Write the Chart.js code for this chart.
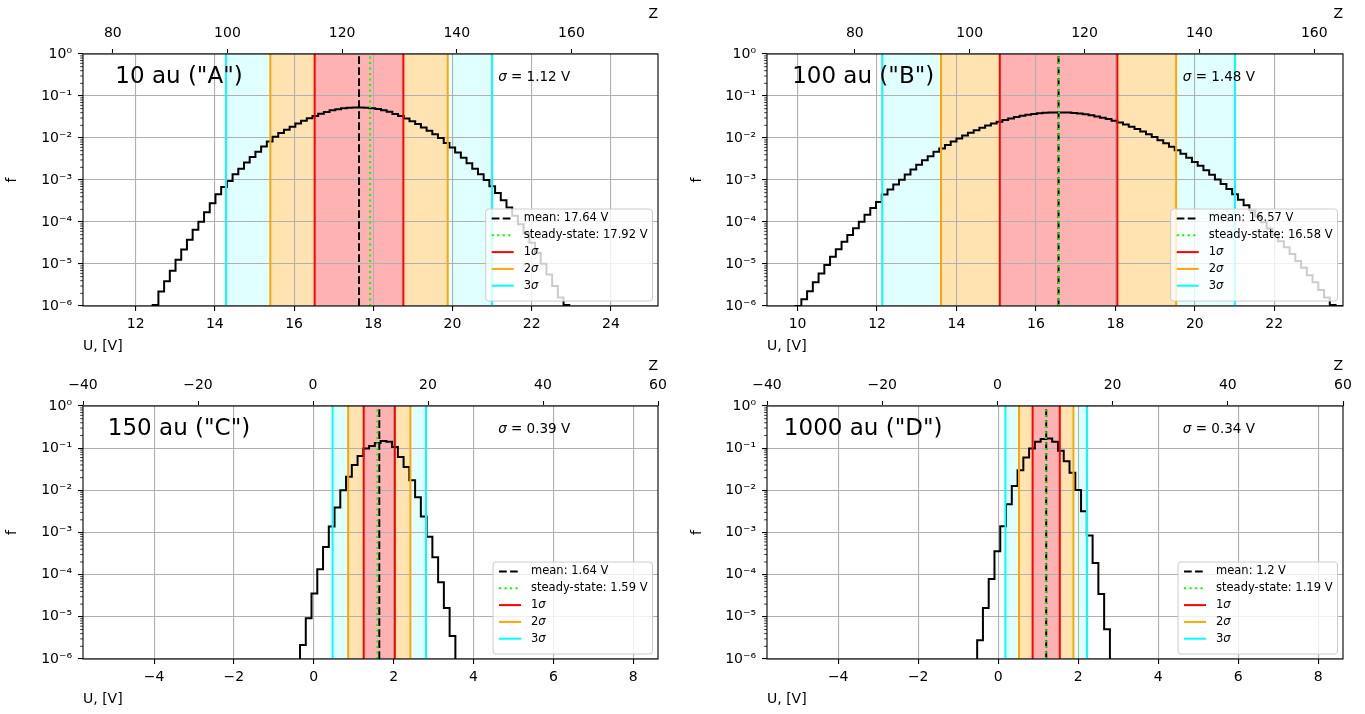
<!DOCTYPE html>
<html>
<head>
<meta charset="utf-8">
<script src="https://cdn.jsdelivr.net/npm/chart.js@4.4.1/dist/chart.umd.min.js"></script>
<style>
  body { margin: 0; background: #fff; width: 1365px; height: 714px; position: relative; overflow: hidden; }
  canvas { position: absolute; }
</style>
</head>
<body>
<canvas id="pA" width="682" height="357" style="left:0;top:0"></canvas>
<canvas id="pB" width="680" height="357" style="left:685px;top:0"></canvas>
<canvas id="pC" width="682" height="358" style="left:0;top:352px"></canvas>
<canvas id="pD" width="680" height="358" style="left:685px;top:352px"></canvas>
<script>
// ---- data ----
const panelLabels = ['10 au ("A")', '100 au ("B")', '150 au ("C")', '1000 au ("D")'];
const meanU = [17.64, 16.57, 1.64, 1.2];
const steadyU = [17.92, 16.58, 1.59, 1.19];
const sigmaU = [1.12, 1.48, 0.39, 0.34];

const uRangeA = [10.67, 25.19];
const zRangeA = [74.8, 175.1];
const uRangeB = [9.23, 23.73];
const zRangeB = [64.7, 165.0];
const uRangeCD = [-5.78, 8.62];
const zRangeCD = [-40, 60];

const uTicksA = [12, 14, 16, 18, 20, 22, 24];
const uTicksB = [10, 12, 14, 16, 18, 20, 22];
const uTicksCD = [-4, -2, 0, 2, 4, 6, 8];
const zTicksAB = [80, 100, 120, 140, 160];
const zTicksCD = [-40, -20, 0, 20, 40, 60];
const fTicks = [1e-6, 1e-5, 1e-4, 1e-3, 1e-2, 1e-1, 1];

// histograms: first bin edge, bin width (one charge unit), f per bin
const binStartA = 12.43, binWidthA = 0.1441;
const histA = [
  1.05e-6, 2.2e-6, 3.9e-6, 6.9e-6, 1.26e-5, 2.2e-5, 3.8e-5, 6.5e-5, 1.02e-4, 1.7e-4,
  2.8e-4, 4.6e-4, 6.8e-4, 9.5e-4, 1.38e-3, 1.86e-3, 2.6e-3, 3.55e-3, 4.7e-3, 6.3e-3,
  8.3e-3, 1.07e-2, 1.32e-2, 1.57e-2, 1.86e-2, 2.2e-2, 2.57e-2, 2.95e-2, 3.35e-2, 3.76e-2,
  4.17e-2, 4.57e-2, 4.86e-2, 5.1e-2, 5.27e-2, 5.36e-2, 5.36e-2, 5.28e-2, 5.13e-2, 4.9e-2,
  4.57e-2, 4.2e-2, 3.74e-2, 3.32e-2, 2.9e-2, 2.51e-2, 2.14e-2, 1.78e-2, 1.48e-2, 1.23e-2,
  1.0e-2, 7.6e-3, 5.9e-3, 4.5e-3, 3.4e-3, 2.5e-3, 1.86e-3, 1.38e-3, 1.0e-3, 7.1e-4,
  4.9e-4, 3.3e-4, 2.2e-4, 1.41e-4, 8.9e-5, 5.4e-5, 3.2e-5, 1.82e-5, 1.02e-5, 5.6e-6,
  3.0e-6, 1.6e-6, 1.05e-6
];

const binStartB = 9.95, binWidthB = 0.1446;
const histB = [
  1.0e-6, 1.45e-6, 2.24e-6, 3.7e-6, 5.9e-6, 9.5e-6, 1.48e-5, 2.24e-5, 3.4e-5, 4.9e-5,
  7.1e-5, 1.02e-4, 1.48e-4, 2.14e-4, 3.0e-4, 4.5e-4, 5.9e-4, 7.8e-4, 1.02e-3, 1.35e-3,
  1.78e-3, 2.3e-3, 2.95e-3, 3.7e-3, 4.7e-3, 5.6e-3, 6.8e-3, 8.2e-3, 9.7e-3, 1.14e-2,
  1.33e-2, 1.53e-2, 1.75e-2, 1.98e-2, 2.21e-2, 2.45e-2, 2.7e-2, 2.93e-2, 3.16e-2, 3.37e-2,
  3.56e-2, 3.73e-2, 3.87e-2, 3.97e-2, 4.04e-2, 4.07e-2, 4.06e-2, 4.02e-2, 3.93e-2, 3.81e-2,
  3.66e-2, 3.48e-2, 3.27e-2, 3.05e-2, 2.82e-2, 2.58e-2, 2.33e-2, 2.09e-2, 1.86e-2, 1.64e-2,
  1.43e-2, 1.23e-2, 1.05e-2, 8.9e-3, 7.5e-3, 6.2e-3, 5.1e-3, 4.2e-3, 3.4e-3, 2.7e-3,
  2.17e-3, 1.71e-3, 1.33e-3, 1.03e-3, 8.0e-4, 6.1e-4, 4.6e-4, 3.4e-4, 2.5e-4, 1.87e-4,
  1.36e-4, 9.9e-5, 7.0e-5, 5.0e-5, 3.5e-5, 2.5e-5, 1.72e-5, 1.18e-5, 8.1e-6, 5.4e-6,
  3.7e-6, 2.4e-6, 1.6e-6, 1.05e-6, 1.0e-6
];

const binStartC = -0.345, binWidthC = 0.1441;
const histC = [
  2.14e-6, 9.3e-6, 3.6e-5, 1.35e-4, 4.5e-4, 1.38e-3, 3.9e-3, 1.0e-2, 2.1e-2, 4.0e-2,
  6.5e-2, 9.8e-2, 0.112, 0.132, 0.148, 0.141, 0.107, 6.2e-2, 3.6e-2, 1.74e-2,
  6.9e-3, 2.4e-3, 7.9e-4, 2.6e-4, 6.6e-5, 1.62e-5, 3.5e-6
];

const binStartD = -0.526, binWidthD = 0.1443;
const histD = [
  2.8e-6, 1.62e-5, 7.9e-5, 3.6e-4, 1.41e-3, 4.7e-3, 1.26e-2, 3.0e-2, 6.0e-2, 9.8e-2,
  0.141, 0.166, 0.170, 0.141, 8.7e-2, 4.9e-2, 2.6e-2, 1.02e-2, 3.2e-3, 8.5e-4,
  1.9e-4, 3.5e-5, 5.1e-6
];

// ---- styling ----
const FLOOR = 1e-9;               // below the axis: closes the step outline
const FAMILY = "'DejaVu Sans', sans-serif";
const F14 = { family: FAMILY, size: 14 };
const GRID = '#b0b0b0';
const RED = '#ff0000', ORANGE = '#ffa500', CYAN = '#00ffff', LIME = '#00ff00';
const DASH_MEAN = [7.7, 3.3], DOT_SS = [2.1, 3.4];

Chart.defaults.font.family = FAMILY;
Chart.defaults.color = '#000';

const SUP = { '-': '\u207b', '0': '\u2070', '1': '\u00b9', '2': '\u00b2', '3': '\u00b3', '4': '\u2074', '5': '\u2075', '6': '\u2076', '7': '\u2077', '8': '\u2078', '9': '\u2079' };
const pow10Label = v => '10' + String(Math.round(Math.log10(v))).split('').map(c => SUP[c]).join('');
const numLabel = v => String(v).replace('-', '\u2212');

const panels = [
  { id: 'pA', idx: 0, hist: histA, start: binStartA, width: binWidthA, u: uRangeA, z: zRangeA, uTicks: uTicksA, zTicks: zTicksAB, yw: 83, padR: 24 },
  { id: 'pB', idx: 1, hist: histB, start: binStartB, width: binWidthB, u: uRangeB, z: zRangeB, uTicks: uTicksB, zTicks: zTicksAB, yw: 82, padR: 22 },
  { id: 'pC', idx: 2, hist: histC, start: binStartC, width: binWidthC, u: uRangeCD, z: zRangeCD, uTicks: uTicksCD, zTicks: zTicksCD, yw: 83, padR: 24 },
  { id: 'pD', idx: 3, hist: histD, start: binStartD, width: binWidthD, u: uRangeCD, z: zRangeCD, uTicks: uTicksCD, zTicks: zTicksCD, yw: 82, padR: 22 }
];

function roundRect(ctx, x, y, w, h, r) {
  ctx.beginPath();
  ctx.moveTo(x + r, y);
  ctx.lineTo(x + w - r, y); ctx.arcTo(x + w, y, x + w, y + r, r);
  ctx.lineTo(x + w, y + h - r); ctx.arcTo(x + w, y + h, x + w - r, y + h, r);
  ctx.lineTo(x + r, y + h); ctx.arcTo(x, y + h, x, y + h - r, r);
  ctx.lineTo(x, y + r); ctx.arcTo(x, y, x + r, y, r);
  ctx.closePath();
}

function drawLegend(ctx, a, i) {
  const font = '11.5px ' + FAMILY, fontIt = 'italic 11.5px ' + FAMILY;
  const rows = [
    { text: 'mean: ' + meanU[i] + ' V', color: '#000', dash: DASH_MEAN },
    { text: 'steady-state: ' + steadyU[i] + ' V', color: LIME, dash: DOT_SS },
    { text: '1', sig: true, color: RED, dash: [] },
    { text: '2', sig: true, color: ORANGE, dash: [] },
    { text: '3', sig: true, color: CYAN, dash: [] }
  ];
  const widthOf = r => {
    ctx.font = font;
    let w = ctx.measureText(r.text).width;
    if (r.sig) { ctx.font = fontIt; w += ctx.measureText('\u03c3').width; }
    return w;
  };
  const tw = Math.max(...rows.map(widthOf));
  const w = 6 + 22 + 10 + tw + 5, h = 92;
  const x0 = a.right - 5.5 - w, y0 = a.bottom - 5 - h;
  roundRect(ctx, x0, y0, w, h, 3);
  ctx.fillStyle = 'rgba(255,255,255,0.8)';
  ctx.fill();
  ctx.strokeStyle = '#cccccc';
  ctx.lineWidth = 1;
  ctx.setLineDash([]);
  ctx.stroke();
  rows.forEach((r, k) => {
    const y = y0 + 9.5 + 16.8 * k;
    ctx.setLineDash(r.dash);
    ctx.strokeStyle = r.color;
    ctx.lineWidth = 2;
    ctx.beginPath(); ctx.moveTo(x0 + 6, y); ctx.lineTo(x0 + 28, y); ctx.stroke();
    ctx.setLineDash([]);
    ctx.fillStyle = '#000';
    ctx.textAlign = 'left';
    ctx.textBaseline = 'middle';
    ctx.font = font;
    ctx.fillText(r.text, x0 + 38, y);
    if (r.sig) {
      const w1 = ctx.measureText(r.text).width;
      ctx.font = fontIt;
      ctx.fillText('\u03c3', x0 + 38 + w1, y);
    }
  });
}

function panelPlugin(p) {
  const i = p.idx;
  return {
    id: 'panel' + i,
    beforeDraw(chart) {
      // sigma bands, under the grid
      const ctx = chart.ctx, a = chart.chartArea, xs = chart.scales.x;
      const m = meanU[i], s = sigmaU[i];
      const band = (lo, hi, color) => {
        const x0 = xs.getPixelForValue(lo), x1 = xs.getPixelForValue(hi);
        ctx.fillStyle = color;
        ctx.fillRect(x0, a.top, x1 - x0, a.bottom - a.top);
      };
      ctx.save();
      band(m - 3 * s, m - 2 * s, 'rgba(0,255,255,0.12)');
      band(m + 2 * s, m + 3 * s, 'rgba(0,255,255,0.12)');
      band(m - 2 * s, m - s, 'rgba(255,165,0,0.3)');
      band(m + s, m + 2 * s, 'rgba(255,165,0,0.3)');
      band(m - s, m + s, 'rgba(255,0,0,0.3)');
      ctx.restore();
    },
    afterDraw(chart) {
      const ctx = chart.ctx, a = chart.chartArea, ys = chart.scales.y;
      ctx.save();
      // spines
      ctx.strokeStyle = '#000';
      ctx.lineWidth = 1.1;
      ctx.strokeRect(a.left, a.top, a.right - a.left, a.bottom - a.top);
      // minor log ticks
      ctx.lineWidth = 0.8;
      ctx.beginPath();
      for (let e = -6; e < 0; e++) {
        for (let mm = 2; mm <= 9; mm++) {
          const y = ys.getPixelForValue(mm * Math.pow(10, e));
          ctx.moveTo(a.left - 2.8, y); ctx.lineTo(a.left, y);
        }
      }
      ctx.stroke();
      // panel name
      const W = a.right - a.left;
      const ty = a.top + 23.5;
      ctx.fillStyle = '#000';
      ctx.textBaseline = 'middle';
      ctx.textAlign = 'center';
      ctx.font = '23px ' + FAMILY;
      ctx.fillText(panelLabels[i], a.left + 0.167 * W, ty);
      // sigma annotation
      ctx.textAlign = 'left';
      const sx = a.left + 0.722 * W;
      ctx.font = 'italic 13.5px ' + FAMILY;
      ctx.fillText('\u03c3', sx, ty);
      const ws = ctx.measureText('\u03c3').width;
      ctx.font = '13.5px ' + FAMILY;
      ctx.fillText(' = ' + sigmaU[i] + ' V', sx + ws, ty);
      drawLegend(ctx, a, i);
      ctx.restore();
    }
  };
}

function makeChart(p) {
  const i = p.idx;
  const m = meanU[i], s = sigmaU[i], ss = steadyU[i];
  const n = p.hist.length;
  const outline = [{ x: p.start, y: FLOOR }];
  p.hist.forEach((v, k) => outline.push({ x: p.start + k * p.width, y: v }));
  outline.push({ x: p.start + n * p.width, y: FLOOR });

  const vline = (x, color, dash, order) => ({
    data: [{ x: x, y: fTicks[0] }, { x: x, y: fTicks[fTicks.length - 1] }],
    borderColor: color, borderDash: dash, borderWidth: 2, pointRadius: 0, order: order
  });

  const datasets = [
    { data: outline, stepped: true, borderColor: '#000', borderWidth: 2, pointRadius: 0, order: 10 },
    vline(m - 3 * s, CYAN, [], 5), vline(m + 3 * s, CYAN, [], 5),
    vline(m - 2 * s, ORANGE, [], 4), vline(m + 2 * s, ORANGE, [], 4),
    vline(m - s, RED, [], 3), vline(m + s, RED, [], 3),
    vline(m, '#000', DASH_MEAN, 2),
    vline(ss, LIME, DOT_SS, 1)
  ];

  new Chart(document.getElementById(p.id), {
    type: 'line',
    data: { datasets },
    options: {
      responsive: false,
      animation: false,
      devicePixelRatio: 1,
      events: [],
      layout: { padding: { left: 0, right: p.padR, top: 0, bottom: 0 } },
      plugins: { legend: { display: false }, tooltip: { enabled: false } },
      scales: {
        x: {
          type: 'linear', position: 'bottom', min: p.u[0], max: p.u[1],
          afterBuildTicks: sc => { sc.ticks = p.uTicks.map(v => ({ value: v })); },
          afterFit: sc => { sc.height = 51; sc.paddingLeft = 0; sc.paddingRight = 0; },
          ticks: { autoSkip: false, maxRotation: 0, padding: 5, color: '#000', font: F14, callback: v => numLabel(v) },
          grid: { color: GRID, lineWidth: 1.1, tickColor: '#000', tickLength: 5, tickWidth: 1.1 },
          border: { display: false },
          title: { display: true, text: 'U, [V]', align: 'start', color: '#000', font: F14, padding: { top: 0, bottom: 1.8 } }
        },
        x2: {
          type: 'linear', position: 'top', min: p.z[0], max: p.z[1],
          afterBuildTicks: sc => { sc.ticks = p.zTicks.map(v => ({ value: v })); },
          afterFit: sc => { sc.height = 54; sc.paddingLeft = 0; sc.paddingRight = 0; },
          ticks: { autoSkip: false, maxRotation: 0, padding: 7.3, color: '#000', font: F14, callback: v => numLabel(v) },
          grid: { drawOnChartArea: false, tickColor: '#000', tickLength: 5, tickWidth: 1.1 },
          border: { display: false },
          title: { display: true, text: 'Z', align: 'end', color: '#000', font: F14, padding: { top: 6, bottom: 0 } }
        },
        y: {
          type: 'logarithmic', position: 'left', min: fTicks[0], max: fTicks[fTicks.length - 1],
          afterBuildTicks: sc => { sc.ticks = fTicks.map(v => ({ value: v })); },
          afterFit: sc => { sc.width = p.yw; sc.paddingTop = 0; sc.paddingBottom = 0; },
          ticks: { autoSkip: false, padding: 6, color: '#000', font: F14, callback: v => pow10Label(v) },
          grid: { color: GRID, lineWidth: 1.1, tickColor: '#000', tickLength: 5, tickWidth: 1.1 },
          border: { display: false },
          title: { display: true, text: 'f', color: '#000', font: F14, padding: { top: 3.5, bottom: 0 } }
        }
      }
    },
    plugins: [panelPlugin(p)]
  });
}

panels.forEach(makeChart);
</script>
</body>
</html>
